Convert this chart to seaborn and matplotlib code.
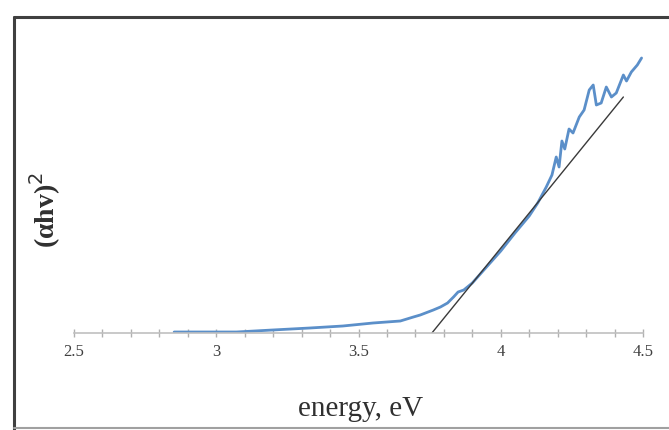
import numpy as np
import pandas as pd
import matplotlib
matplotlib.use("Agg")
import matplotlib.pyplot as plt
from matplotlib.lines import Line2D
from matplotlib.ticker import MultipleLocator
import seaborn as sns

# Data
energy = [2.852, 2.94, 3.071, 3.198, 3.329, 3.445, 3.551, 3.647, 3.693, 3.717,
          3.763, 3.788, 3.813, 3.834, 3.85, 3.87, 3.9, 3.95, 4.0, 4.05,
          4.1, 4.13, 4.16, 4.18, 4.195, 4.205, 4.215, 4.225, 4.24, 4.254,
          4.276, 4.293, 4.311, 4.325, 4.336, 4.353, 4.371, 4.389, 4.406, 4.431,
          4.442, 4.459, 4.48, 4.495]
ahv2 = [0.1, 0.1, 0.1, 0.3, 0.5, 0.7, 1.0, 1.2, 1.6, 1.8,
        2.3, 2.6, 3.0, 3.6, 4.1, 4.3, 5.0, 6.6, 8.2, 10.0,
        11.7, 13.0, 14.6, 15.8, 17.6, 16.6, 19.2, 18.4, 20.4, 20.0,
        21.6, 22.3, 24.3, 24.8, 22.8, 23.0, 24.6, 23.6, 24.0, 25.8,
        25.2, 26.1, 26.8, 27.5]
fit_energy = [3.758, 4.431]
fit_ahv2 = [0.0, 23.6]
xticks = [2.5, 3, 3.5, 4, 4.5]
xticklabels = ["2.5", "3", "3.5", "4", "4.5"]

sns.set_theme(style="white")
plt.rcParams["font.family"] = ["Liberation Serif", "DejaVu Serif"]

fig = plt.figure(figsize=(6.69, 4.30), dpi=100)
W, H = 669, 430
ax = fig.add_axes([74 / W, (H - 333) / H, (643 - 74) / W, (333 - 40) / H])

df = pd.DataFrame({"energy": energy, "ahv2": ahv2})
dfit = pd.DataFrame({"energy": fit_energy, "ahv2": fit_ahv2})
sns.lineplot(data=df, x="energy", y="ahv2", ax=ax, color="#5b8fc9", lw=2.0)
sns.lineplot(data=dfit, x="energy", y="ahv2", ax=ax, color="#3a3a3a", lw=1.0)

ax.set_xlim(2.5, 4.5)
ax.set_ylim(0, 29.3)
ax.set_xticks(xticks)
ax.set_xticklabels(xticklabels)
ax.xaxis.set_minor_locator(MultipleLocator(0.1))
ax.set_yticks([])
for s in ["top", "right", "left"]:
    ax.spines[s].set_visible(False)
ax.spines["bottom"].set_color("#c0c0c0")
ax.spines["bottom"].set_linewidth(1.2)
ax.tick_params(axis="x", which="both", direction="inout", colors="#b0b0b0",
               length=6, width=1, bottom=True, labelcolor="#404040",
               labelsize=12, pad=5)
ax.set_xlabel("energy, eV", fontsize=21, color="#303030")
ax.xaxis.set_label_coords(0.504, -0.215)
ax.set_ylabel("(αhv)$^2$", fontsize=20, color="#303030", fontweight="bold")
ax.yaxis.set_label_coords(-0.019, 0.42)
ax.patch.set_alpha(0)

# outer frame
fig.add_artist(Line2D([14 / W, 14 / W], [0, (H - 17) / H], transform=fig.transFigure,
                      color="#404040", lw=2.2))
fig.add_artist(Line2D([14 / W, 1.0], [(H - 17) / H, (H - 17) / H], transform=fig.transFigure,
                      color="#404040", lw=2.2))
fig.add_artist(Line2D([14 / W, 1.0], [2 / H, 2 / H], transform=fig.transFigure,
                      color="#a0a0a0", lw=1.5))

fig.savefig("out.png", dpi=100)
